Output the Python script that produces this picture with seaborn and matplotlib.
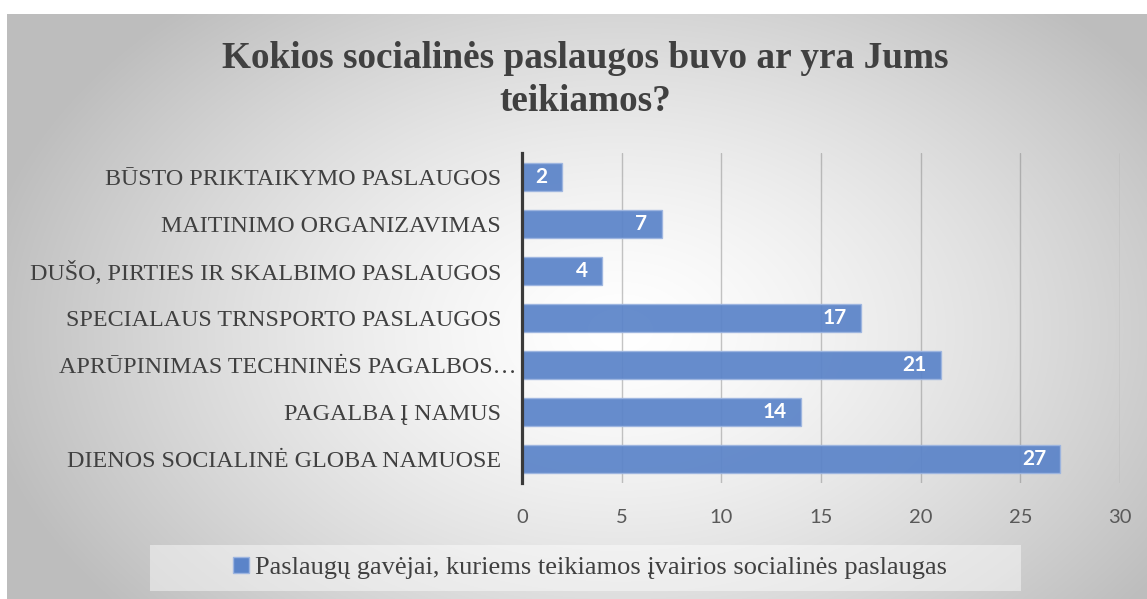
import numpy as np
import pandas as pd
import matplotlib
matplotlib.use("Agg")
import matplotlib.pyplot as plt
import matplotlib.transforms as mtransforms
from matplotlib.patches import Rectangle
import seaborn as sns

# ---- data ----
services = [
    "BŪSTO PRIKTAIKYMO PASLAUGOS",
    "MAITINIMO ORGANIZAVIMAS",
    "DUŠO, PIRTIES IR SKALBIMO PASLAUGOS",
    "SPECIALAUS TRNSPORTO PASLAUGOS",
    "APRŪPINIMAS TECHNINĖS PAGALBOS…",
    "PAGALBA Į NAMUS",
    "DIENOS SOCIALINĖ GLOBA NAMUOSE",
]
recipients = [2, 7, 4, 17, 21, 14, 27]
x_ticks = [0, 5, 10, 15, 20, 25, 30]
title_text = "Kokios socialinės paslaugos buvo ar yra Jums\nteikiamos?"
series_name = "Paslaugų gavėjai, kuriems teikiamos įvairios socialinės paslaugas"

sns.set_theme(style="white")
plt.rcParams["font.family"] = ["Liberation Serif", "DejaVu Serif"]

W, H = 1147, 599
fig = plt.figure(figsize=(W / 100, H / 100), dpi=100)

BAR = "#5b84c9"
BAR_EDGE = "#9db5e0"
TEXT = "#404040"

# ---- radial grey background of the chart area ----
bg = fig.add_axes([0, 0, 1, 1], zorder=-10)
yy, xx = np.mgrid[0:H, 0:W]
d = np.sqrt(((xx - 620) / 620) ** 2 + ((yy - 330) / 420) ** 2)
g = 255 - 66 * np.clip(d / 1.05, 0, 1) ** 1.4
g[:14, :] = 255
g[:, :7] = 255
img = np.dstack([g, g, g]).astype(np.uint8)
bg.imshow(img, extent=(0, W, H, 0), aspect="auto", interpolation="bilinear")
bg.set_xlim(0, W)
bg.set_ylim(H, 0)
bg.axis("off")

# ---- bar chart ----
ax = fig.add_axes([522 / W, (H - 483) / H, 598 / W, 330 / H])
ax.patch.set_alpha(0)
df = pd.DataFrame({"service": services, "count": recipients})
sns.barplot(data=df, y="service", x="count", orient="h", ax=ax,
            color=BAR, saturation=1, width=28 / 47,
            edgecolor=BAR_EDGE, linewidth=1, alpha=0.93)
ax.set_xlim(0, 30)
ax.set_ylim(6.5, -0.5)
ax.set_xlabel("")
ax.set_ylabel("")

for i, v in enumerate(recipients):
    ax.annotate(str(v), xy=(v, i), xytext=(-14, 0), textcoords="offset pixels",
                ha="right", va="center", color="white", fontsize=15,
                fontweight="bold", family="Lato")

ax.set_xticks(x_ticks)
ax.tick_params(axis="x", length=0, pad=19, labelsize=14.5, labelcolor="#595959")
for lab in ax.get_xticklabels():
    lab.set_family("Lato")
ax.tick_params(axis="y", length=0, pad=15, labelsize=17.3, labelcolor=TEXT)

# the shortened label runs a little past the others
shift = mtransforms.ScaledTranslation(15 / 100, 0, fig.dpi_scale_trans)
for lab in ax.get_yticklabels():
    if lab.get_text().endswith("…"):
        lab.set_transform(lab.get_transform() + shift)

ax.xaxis.grid(True, color="#7f7f7f", alpha=0.45, linewidth=1)
ax.yaxis.grid(False)
ax.set_axisbelow(True)
for side in ("top", "right", "bottom"):
    ax.spines[side].set_visible(False)
ax.spines["left"].set_color("#3a3a3a")
ax.spines["left"].set_linewidth(2.3)

# ---- title ----
fig.text(585 / W, 1 - 80 / H, title_text, ha="center", va="center",
         fontsize=26.8, fontweight="bold", color=TEXT, linespacing=1.3,
         family="Liberation Serif")

# ---- legend ----
fig.patches.append(Rectangle((150 / W, (H - 591) / H), 871 / W, 46 / H,
                             transform=fig.transFigure, facecolor="white",
                             alpha=0.45, edgecolor="none", zorder=-5))
handle = Rectangle((0, 0), 1, 1, facecolor=BAR, edgecolor=BAR_EDGE)
fig.legend(handles=[handle], labels=[series_name], loc="center",
           bbox_to_anchor=(590 / W, 1 - 568 / H), frameon=False,
           handlelength=0.6, handleheight=0.6, handletextpad=0.25,
           prop={"family": "Liberation Serif", "size": 19},
           labelcolor=TEXT)

fig.savefig("out.png", dpi=100)
